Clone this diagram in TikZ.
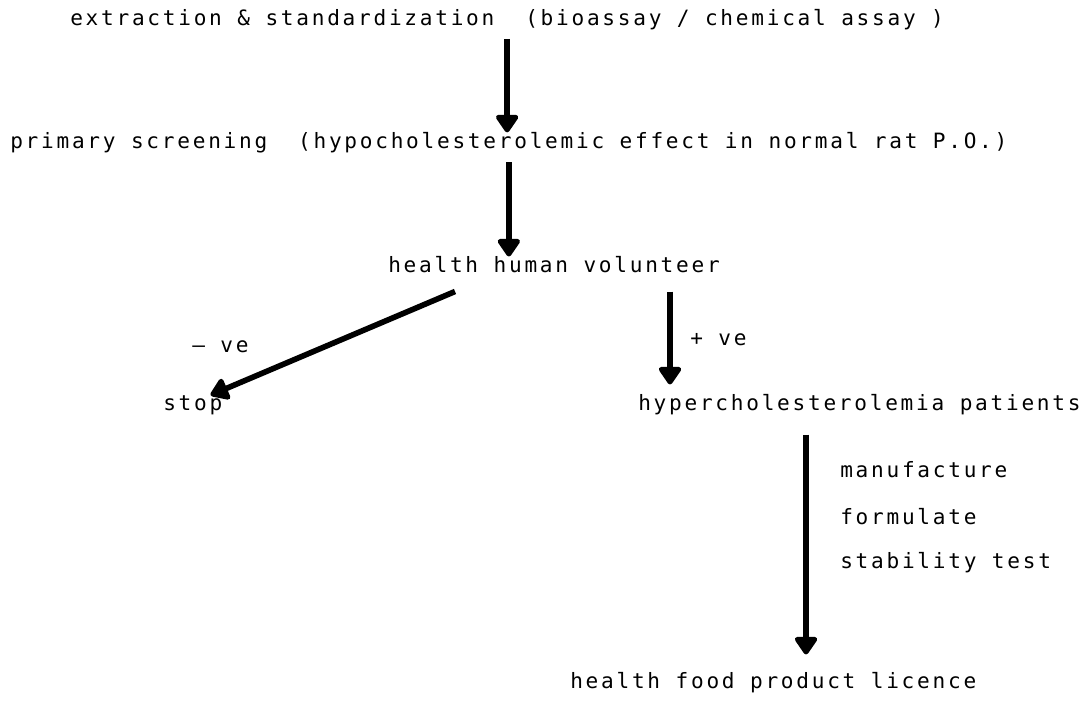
\documentclass[tikz,border=0pt]{standalone}
\usepackage{fontspec}
\usetikzlibrary{arrows.meta,positioning}
\newfontfamily\typewriter[LetterSpace=13]{DejaVu Sans Mono}
\tikzset{
  typed/.style={font=\fontsize{15pt}{17pt}\typewriter,inner sep=0pt,anchor=west},
  flow/.style={line width=4pt,-{Triangle[width=18pt,length=14pt,round]}},
}

\begin{document}
\begin{tikzpicture}[x=0.025cm,y=-0.025cm]
    \useasboundingbox (0,0) rectangle (1088,702);
    % typed lines
    \node[typed] (extract)   at (70,20)   {extraction \& standardization\ \ (bioassay / chemical assay )};
    \node[typed] (screen)    at (10,143)  {primary screening\ \ (hypocholesterolemic effect in normal rat P.O.)};
    \node[typed] (volunteer) at (388,265) {health human volunteer};
    \node[typed] (stop)      at (163,405) {stop};
    \node[typed] (patients)  at (638,405) {hypercholesterolemia patients};
    \node[typed] (licence)   at (570,683) {health food product licence};
    \node[typed] (neg)       at (192,347) {– ve};
    \node[typed] (pos)       at (690,340) {+ ve};
    \node[typed] (make)      at (840,470) {manufacture};
    \node[typed] (formulate) at (840,517) {formulate};
    \node[typed] (stability) at (840,563) {stability test};
    % arrows
    \draw[flow] ([yshift=-6pt]extract.south) -- (extract.south |- screen.north);
    \draw[flow] ([yshift=-6pt]screen.south) -- (screen.south |- volunteer.north);
    \draw[flow] ([xshift=1.675cm,yshift=-0.45cm]volunteer.south west) -- ([xshift=-0.3cm]stop.north east);
    \draw[flow] ([xshift=-1.25cm,yshift=-0.45cm]volunteer.south east) -- ([xshift=-1.25cm,yshift=0.25cm]volunteer.south east |- patients.north);
    \draw[flow] ([xshift=4.2cm,yshift=-0.475cm]patients.south west) -- ([xshift=4.2cm,yshift=0.45cm]patients.south west |- licence.north);
\end{tikzpicture}
\end{document}
